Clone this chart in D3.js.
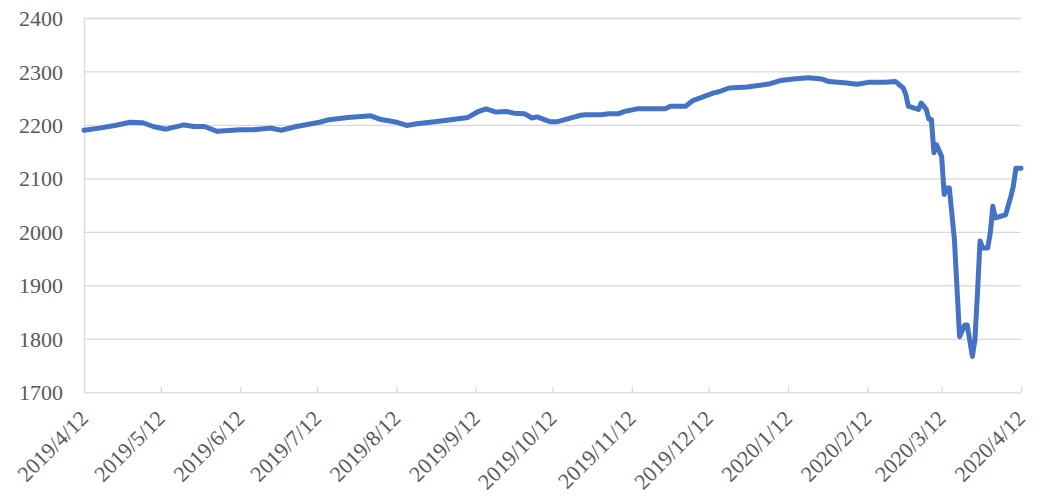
<!DOCTYPE html>
<html><head><meta charset="utf-8">
<script src="https://cdn.jsdelivr.net/npm/d3@7"></script>
<style>
html,body{margin:0;padding:0;background:#fff;}
svg text{font-family:"Liberation Serif","Times New Roman",serif;fill:#595959;}
</style></head>
<body><svg id="c" width="1044" height="504"></svg>
<script>
const dates = ["2019-04-12","2019-04-18","2019-04-24","2019-04-30","2019-05-05","2019-05-09","2019-05-14","2019-05-21","2019-05-25","2019-05-29",
"2019-06-03","2019-06-12","2019-06-17","2019-06-24","2019-06-28","2019-07-04","2019-07-13","2019-07-16","2019-07-24","2019-08-02",
"2019-08-06","2019-08-10","2019-08-12","2019-08-16","2019-08-20","2019-08-27","2019-09-03","2019-09-09","2019-09-13","2019-09-16",
"2019-09-20","2019-09-24","2019-09-27","2019-10-01","2019-10-04","2019-10-06","2019-10-11","2019-10-14","2019-10-20","2019-10-23",
"2019-10-25","2019-10-31","2019-11-03","2019-11-07","2019-11-09","2019-11-14","2019-11-25","2019-11-27","2019-12-03","2019-12-06",
"2019-12-09","2019-12-14","2019-12-16","2019-12-20","2019-12-27","2020-01-01","2020-01-05","2020-01-09","2020-01-14","2020-01-20",
"2020-01-25","2020-01-28","2020-02-03","2020-02-08","2020-02-13","2020-02-19","2020-02-23","2020-02-26","2020-02-27","2020-02-28",
"2020-03-01","2020-03-03","2020-03-04","2020-03-06","2020-03-07","2020-03-08","2020-03-09","2020-03-10","2020-03-12","2020-03-13",
"2020-03-14","2020-03-15","2020-03-17","2020-03-19","2020-03-21","2020-03-22","2020-03-24","2020-03-25","2020-03-26","2020-03-27",
"2020-03-28","2020-03-30","2020-03-31","2020-04-01","2020-04-02","2020-04-06","2020-04-08","2020-04-09","2020-04-10","2020-04-12"];
const values = [2191,2195,2200,2206,2205,2198,2193,2201,2198,2198,
2189,2192,2192,2195,2191,2198,2206,2210,2215,2218,
2211,2208,2206,2200,2203,2207,2211,2215,2226,2231,
2225,2226,2223,2222,2214,2216,2207,2207,2215,2219,
2220,2220,2222,2222,2226,2231,2231,2236,2236,2247,
2252,2261,2263,2270,2272,2275,2278,2284,2287,2289,
2287,2282,2280,2277,2281,2281,2282,2270,2258,2236,
2233,2230,2242,2230,2212,2211,2149,2164,2142,2071,
2083,2083,1986,1805,1827,1827,1768,1799,1887,1984,
1971,1971,1999,2049,2027,2033,2067,2086,2120,2120];
const xTickLabels = ["2019/4/12","2019/5/12","2019/6/12","2019/7/12","2019/8/12","2019/9/12","2019/10/12","2019/11/12","2019/12/12","2020/1/12","2020/2/12","2020/3/12","2020/4/12"];
const yTicks = [1700,1800,1900,2000,2100,2200,2300,2400];

const parse = d3.timeParse("%Y-%m-%d");
const parseTick = d3.timeParse("%Y/%m/%d");
const data = dates.map((d,i)=>({t:parse(d), v:values[i]}));
const tickDates = xTickLabels.map(s=>parseTick(s));

const svg = d3.select("#c");
const L=84, R=1021, T=18.5, B=392.8;
const xs = d3.scaleTime().domain([tickDates[0], tickDates[tickDates.length-1]]).range([L,R]);
const y = d3.scaleLinear().domain([1700,2400]).range([B,T]);

// gridlines
svg.append("g").selectAll("line").data(yTicks.slice(1)).join("line")
  .attr("x1",L).attr("x2",R).attr("y1",d=>y(d)).attr("y2",d=>y(d))
  .attr("stroke","#d9d9d9").attr("stroke-width",1.3);

// y axis
const ya = svg.append("g").attr("transform",`translate(${L},0)`)
  .call(d3.axisLeft(y).tickValues(yTicks).tickSize(0).tickPadding(21).tickFormat(d3.format("d")));
ya.select(".domain").attr("stroke","#d9d9d9").attr("stroke-width",1.3);
ya.selectAll("text").style("font-size","22px").attr("fill","#595959");

// x axis
const xa = svg.append("g").attr("transform",`translate(0,${B})`)
  .call(d3.axisTop(xs).tickValues(tickDates).tickSize(6).tickFormat((d,i)=>xTickLabels[i]));
xa.select(".domain").attr("stroke","#d9d9d9").attr("stroke-width",1.3).attr("d",`M${L},0H${R}`);
xa.selectAll(".tick line").attr("stroke","#d9d9d9").attr("stroke-width",1.3);
xa.selectAll(".tick text").attr("text-anchor","end").attr("x",0).attr("y",0)
  .attr("transform","translate(5,27) rotate(-45)").style("font-size","22px").attr("fill","#595959");

// line
svg.append("path").datum(data)
  .attr("fill","none").attr("stroke","#4472C4").attr("stroke-width",5)
  .attr("stroke-linejoin","round").attr("stroke-linecap","round")
  .attr("d", d3.line().x(d=>xs(d.t)).y(d=>y(d.v)));
</script></body></html>
